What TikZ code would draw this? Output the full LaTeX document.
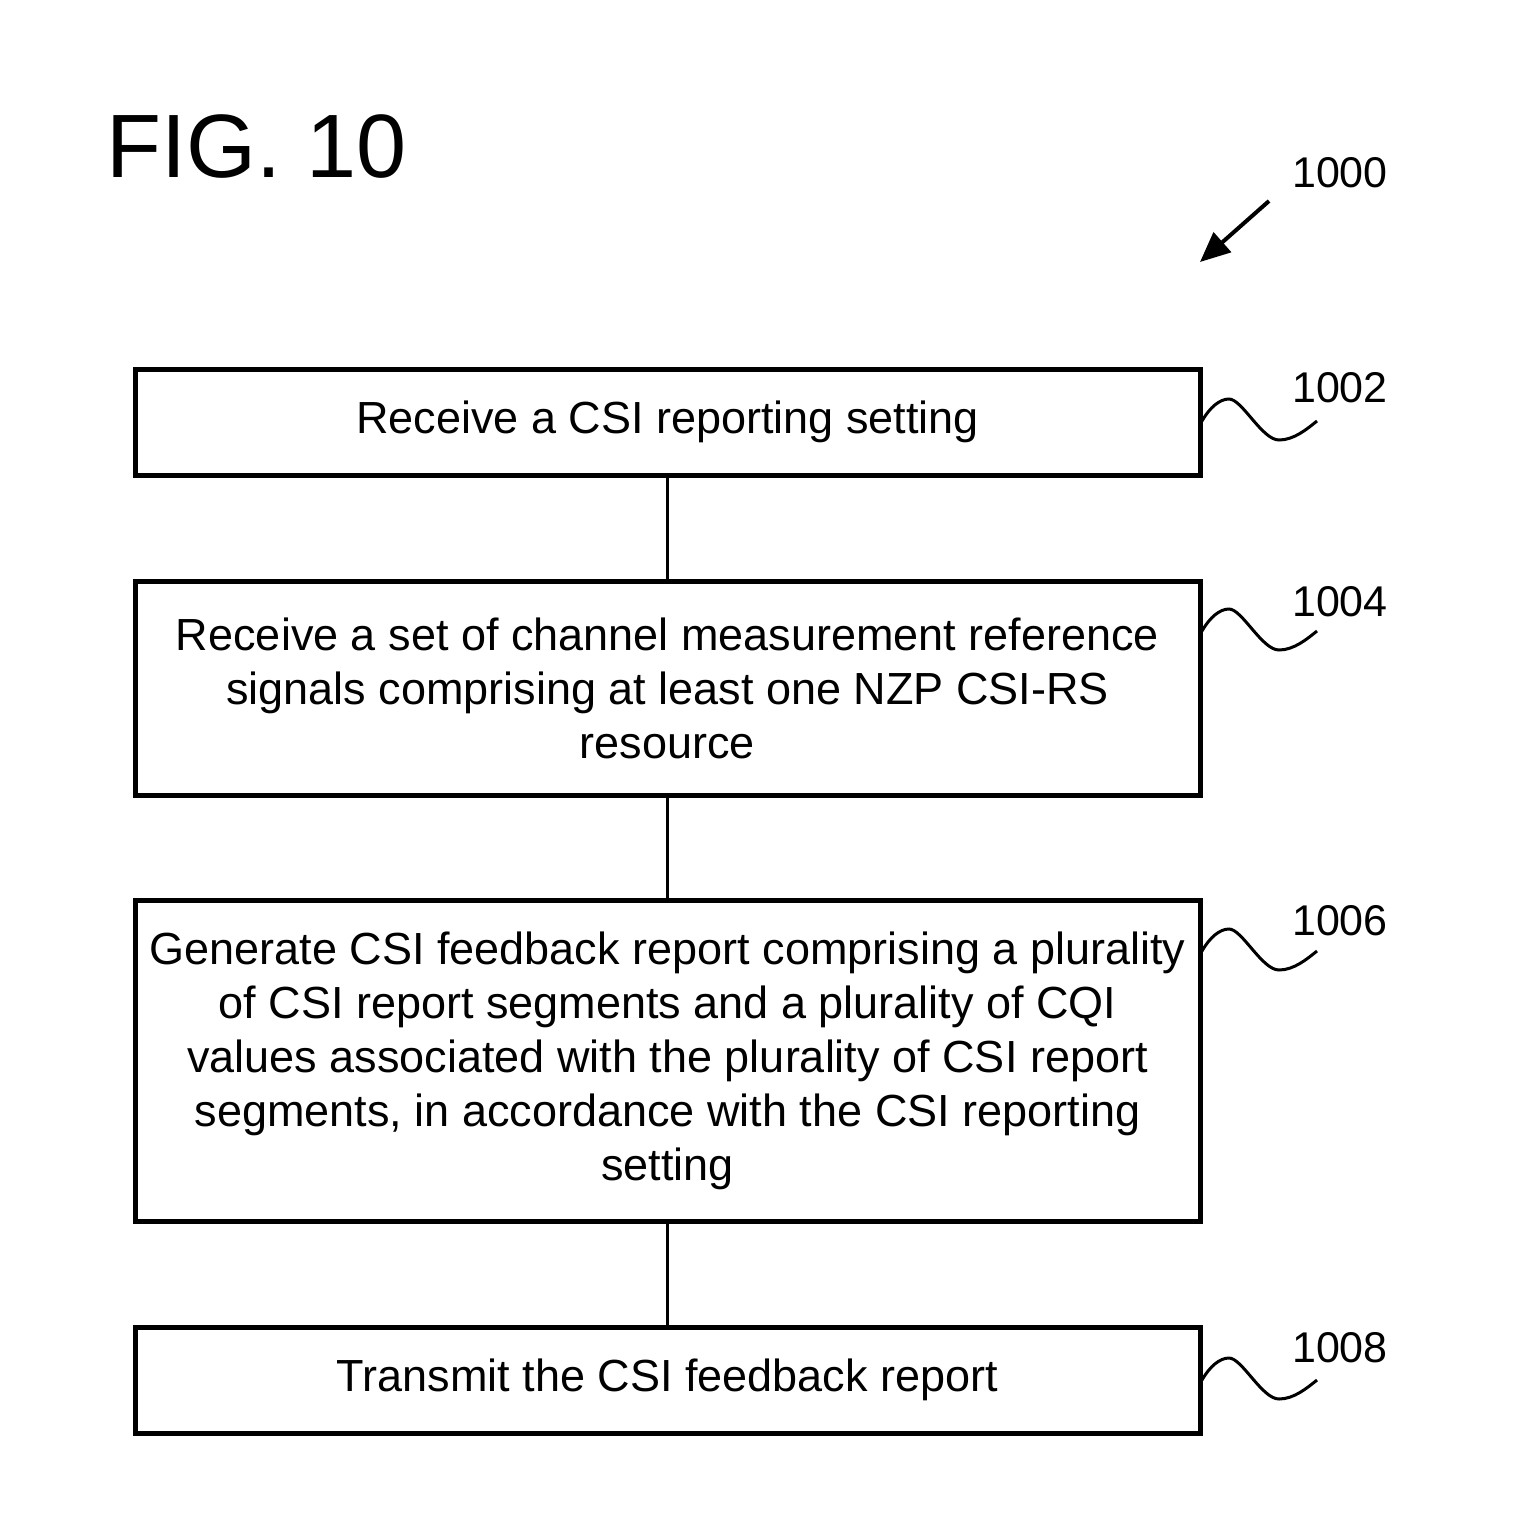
\documentclass[tikz,border=0pt]{standalone}
\usepackage{fontspec}
\setmainfont{Liberation Sans}
\usetikzlibrary{arrows.meta}
\tikzset{
  stepbox/.style={draw=black, line width=5pt, minimum width=1065pt, inner sep=0pt, align=center, font=\fontsize{45}{54}\selectfont},
  conn/.style={line width=3.5pt},
  reflabel/.style={anchor=base, inner sep=0pt, font=\fontsize{43}{50}\selectfont},
  squig/.style={line width=3pt}
}
\newcommand{\mysquig}[2]{%
  \draw[squig] (#1,#2) .. controls (#1+8,#2-14) and (#1+18,#2-22) .. (#1+27,#2-22)
    .. controls (#1+40,#2-22) and (#1+60,#2+19) .. (#1+77,#2+19)
    .. controls (#1+92,#2+19) and (#1+105,#2+8) .. (#1+115,#2);}
\begin{document}
\begin{tikzpicture}[x=1pt,y=-1pt]
\useasboundingbox (0,0) rectangle (1526,1535);
\fill[white] (0,0) rectangle (1526,1535);

\node[anchor=base west, inner sep=0pt, font=\fontsize{90}{100}\selectfont] (fig) at (106,177) {FIG. 10};

\node[reflabel] (l1000) at (1340,187) {1000};
\coordinate (a0) at (1269,201);
\coordinate (a1) at (1200,262);
\draw[line width=4pt, -{Triangle[length=30pt,width=26pt]}] (a0) -- (a1);

\node[stepbox, minimum height=106pt] (b1) at (667.5,422) {Receive a CSI reporting setting};
\node[stepbox, minimum height=214pt] (b2) at (667.5,688) {Receive a set of channel measurement reference\\signals comprising at least one NZP CSI-RS\\resource};
\node[stepbox, minimum height=321pt] (b3) at (667.5,1060.5) {Generate CSI feedback report comprising a plurality\\of CSI report segments and a plurality of CQI\\values associated with the plurality of CSI report\\segments, in accordance with the CSI reporting\\setting};
\node[stepbox, minimum height=106pt] (b4) at (667.5,1380) {Transmit the CSI feedback report};

\draw[conn] (b1.south) -- (b2.north);
\draw[conn] (b2.south) -- (b3.north);
\draw[conn] (b3.south) -- (b4.north);

\node[reflabel] (l1002) at (1340,402) {1002};
\node[reflabel] (l1004) at (1340,616) {1004};
\node[reflabel] (l1006) at (1340,935) {1006};
\node[reflabel] (l1008) at (1340,1362) {1008};

\mysquig{1202}{421}
\mysquig{1202}{631}
\mysquig{1202}{951}
\mysquig{1202}{1380}
\end{tikzpicture}
\end{document}
